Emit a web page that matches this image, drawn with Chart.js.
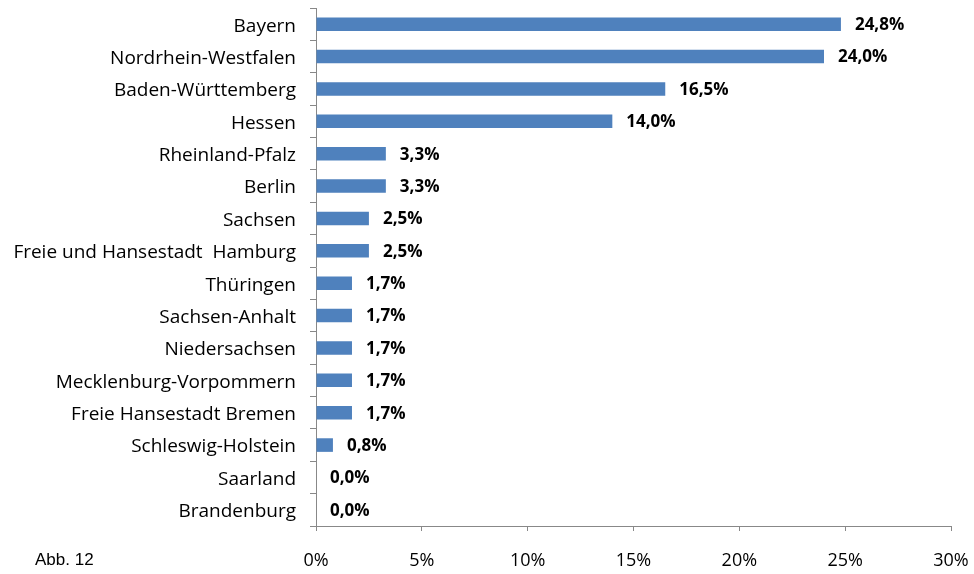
<!DOCTYPE html>
<html>
<head>
<meta charset="utf-8">
<script src="https://cdn.jsdelivr.net/npm/chart.js@4.4.0/dist/chart.umd.min.js"></script>
<style>
  html, body { margin: 0; padding: 0; background: #fff; }
  #wrap { position: relative; width: 974px; height: 574px; }
  #abb { position: absolute; left: 35px; top: 550px; font-family: "Liberation Sans", Arial, sans-serif; font-size: 17px; color: #000; }
</style>
</head>
<body>
<div id="wrap">
  <canvas id="c" width="974" height="574"></canvas>
  <div id="abb">Abb. 12</div>
</div>
<script>
const categories = [
  "Bayern", "Nordrhein-Westfalen", "Baden-Württemberg", "Hessen",
  "Rheinland-Pfalz", "Berlin", "Sachsen", "Freie und Hansestadt  Hamburg",
  "Thüringen", "Sachsen-Anhalt", "Niedersachsen", "Mecklenburg-Vorpommern",
  "Freie Hansestadt Bremen", "Schleswig-Holstein", "Saarland", "Brandenburg"
];
const shares = [24.8, 24.0, 16.5, 14.0, 3.3, 3.3, 2.5, 2.5, 1.7, 1.7, 1.7, 1.7, 1.7, 0.8, 0.0, 0.0];
const xTicks = [0, 5, 10, 15, 20, 25, 30];

const FONT = "'Open Sans', Lato, sans-serif";

const valueLabels = {
  id: 'valueLabels',
  afterDatasetsDraw(chart) {
    const ctx = chart.ctx;
    const meta = chart.getDatasetMeta(0);
    ctx.save();
    ctx.font = "bold 17px " + FONT;
    ctx.fillStyle = "#000";
    ctx.textAlign = "left";
    ctx.textBaseline = "middle";
    meta.data.forEach((bar, i) => {
      const txt = shares[i].toFixed(1).replace('.', ',') + '%';
      ctx.fillText(txt, bar.x + 14, bar.y + 1);
    });
    ctx.restore();
  }
};

new Chart(document.getElementById('c'), {
  type: 'bar',
  data: {
    labels: categories,
    datasets: [{
      data: shares,
      backgroundColor: '#4F81BD',
      borderWidth: 0,
      barPercentage: 0.42,
      categoryPercentage: 1.0
    }]
  },
  options: {
    indexAxis: 'y',
    responsive: false,
    animation: false,
    layout: { padding: { top: 8, right: 23, left: 0, bottom: 0 } },
    plugins: { legend: { display: false }, tooltip: { enabled: false } },
    scales: {
      x: {
        min: 0, max: 30,
        afterBuildTicks(axis) { axis.ticks = xTicks.map(v => ({ value: v })); },
        afterFit(axis) { axis.height = 48; axis.paddingLeft = 0; axis.paddingRight = 0; },
        border: { display: true, color: '#888', width: 1 },
        grid: { display: true, drawOnChartArea: false, drawTicks: true, tickLength: 5, color: '#888' },
        ticks: {
          padding: 19,
          color: '#000',
          font: { family: FONT, size: 18 },
          callback: v => v + '%'
        }
      },
      y: {
        afterFit(axis) { axis.width = 316; axis.paddingTop = 0; axis.paddingBottom = 0; },
        border: { display: true, color: '#888', width: 1 },
        grid: { display: true, offset: true, drawOnChartArea: false, drawTicks: true, tickLength: 6, color: '#888' },
        ticks: {
          padding: 14,
          labelOffset: 2,
          color: '#000',
          font: { family: FONT, size: 19 },
          autoSkip: false
        }
      }
    }
  },
  plugins: [valueLabels]
});
</script>
</body>
</html>
